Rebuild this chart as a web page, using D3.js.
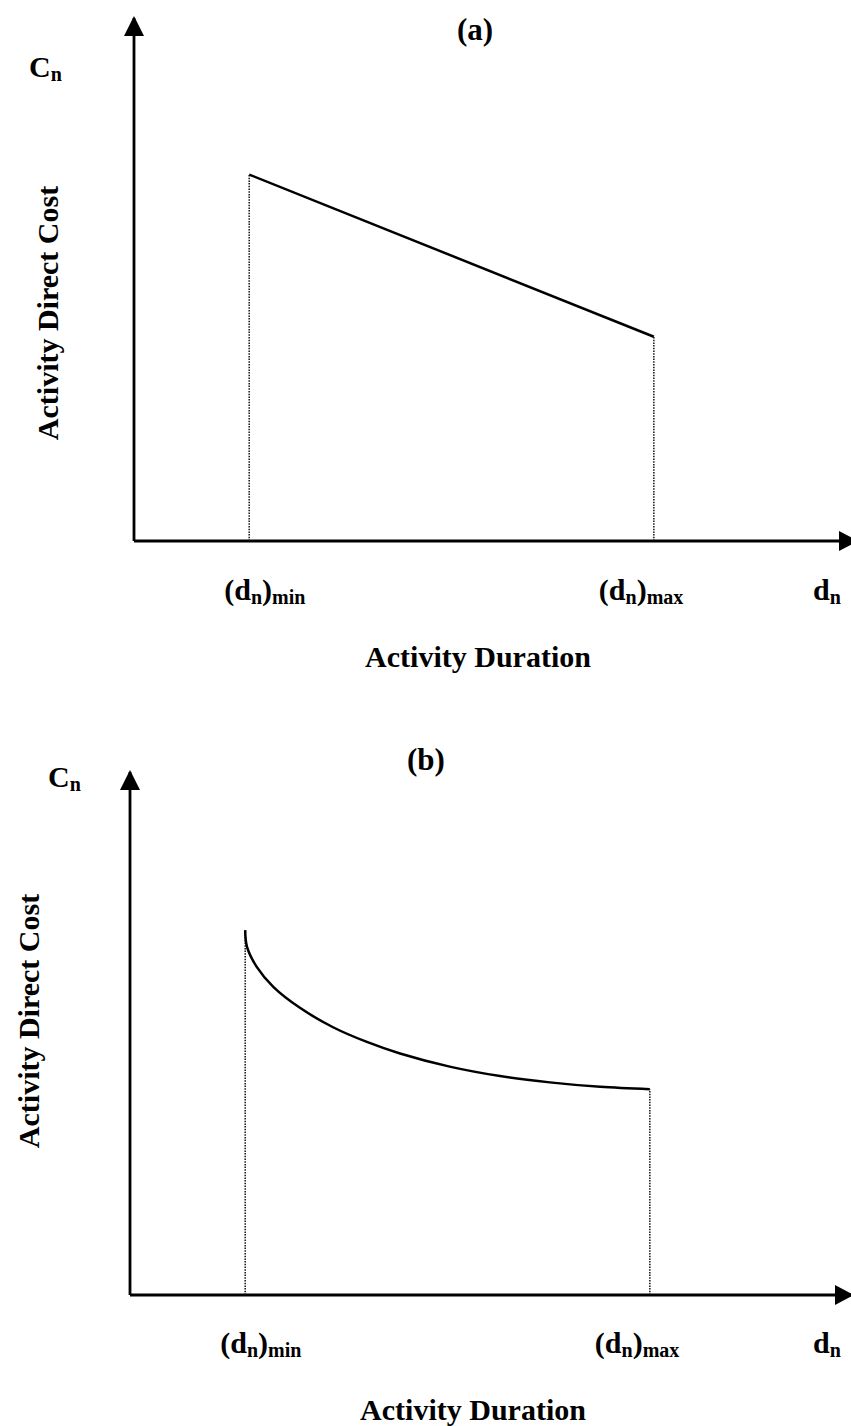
<!DOCTYPE html>
<html>
<head>
<meta charset="utf-8">
<script src="https://cdn.jsdelivr.net/npm/d3@7"></script>
<style>
  body { margin: 0; background: #fff; }
  text { font-family: "Liberation Serif", "Times New Roman", serif; font-weight: bold; fill: #000; }
</style>
</head>
<body>
<div id="canvas"></div>
<script>
// data (duration and cost in arbitrary units, axis runs 0..100)
var panelTitles = ["(a)", "(b)"];
var boundDurations = [16, 72.2];          // (d_n)min, (d_n)max
var boundNames = ["min", "max"];

// panel (a): linear cost-duration relation
var linearDuration = [16, 72.2];
var linearCost = [69.8, 38.9];

// panel (b): non-linear (convex) relation
var curveDuration = [16, 16.25, 17.6, 19.9, 23.6, 28.2, 32.9, 37.5, 44.4, 51.4, 58.3, 65.3, 72.2];
var curveCost = [69.5, 66.3, 62.5, 58.7, 54.7, 51.0, 48.2, 46.0, 43.5, 41.7, 40.5, 39.65, 39.2];

var svgWidth = 851;
var svgHeight = 1426;

// where each panel sits on the page
var layout = [
  { ox: 134, oy: 541, title: [475, 40], cn: [29, 77], ylab: [58, 313], tickY: 600, xlab: [478, 667] },
  { ox: 130, oy: 1295, title: [426, 770], cn: [48, 787], ylab: [39, 1021], tickY: 1353, xlab: [473, 1420] }
];

var x = d3.scaleLinear().domain([0, 100]).range([0, 720]);
var y = d3.scaleLinear().domain([0, 100]).range([0, -525]);

function createSvg(parent, height, width){
  return d3.select(parent).append('svg').attr('height', height).attr('width', width)
}

var svg = createSvg('#canvas', svgHeight, svgWidth);
svg.append('rect').attr('width', svgWidth).attr('height', svgHeight).attr('fill', '#fff');

// text with a subscript, e.g. C_n or (d_n)_min
function subText(g, px, py, parts) {
  var t = g.append('text').attr('x', px).attr('y', py).attr('font-size', 30);
  parts.forEach(function(p) {
    var s = t.append('tspan').text(p.t);
    if (p.sub) s.attr('font-size', 20).attr('dy', 4);
    else if (p.up) s.attr('dy', -4);
  });
  return t;
}

function drawPanel(i, series) {
  var L = layout[i];
  var g = svg.append('g').attr('transform', 'translate(' + L.ox + ',' + L.oy + ')');

  // axes: bare domain lines, no ticks
  var xAxis = g.append('g').call(d3.axisBottom(x).tickValues([]).tickSizeOuter(0));
  var yAxis = g.append('g').call(d3.axisLeft(y).tickValues([]).tickSizeOuter(0));
  xAxis.select('.domain').attr('stroke-width', 2.8).attr('d', 'M0,0H' + (x(100) + 4));
  yAxis.select('.domain').attr('stroke-width', 2.8).attr('d', 'M0,0V' + (y(100) + 2));

  // arrowheads
  var xt = x(100) + 4, yt = y(100);
  g.append('path').attr('d', 'M' + xt + ',0L' + (xt - 19) + ',-10L' + (xt - 19) + ',10Z').attr('fill', '#000');
  g.append('path').attr('d', 'M0,' + yt + 'L-10,' + (yt + 20) + 'L10,' + (yt + 20) + 'Z').attr('fill', '#000');

  // dotted drop lines at (d_n)min and (d_n)max
  var n = series.d.length;
  var ends = [series.c[0], series.c[n - 1]];
  g.selectAll('line.drop').data(boundDurations).enter().append('line')
    .attr('class', 'drop')
    .attr('x1', function(d) { return x(d); })
    .attr('x2', function(d) { return x(d); })
    .attr('y1', 0)
    .attr('y2', function(d, j) { return y(ends[j]); })
    .attr('stroke', '#111').attr('stroke-width', 1.5).attr('stroke-dasharray', '1.5,1.2');

  // cost curve
  var pts = series.d.map(function(d, j) { return [d, series.c[j]]; });
  var line = d3.line()
    .x(function(p) { return x(p[0]); })
    .y(function(p) { return y(p[1]); })
    .curve(series.curve);
  g.append('path').datum(pts).attr('d', line)
    .attr('fill', 'none').attr('stroke', '#000').attr('stroke-width', 2.5);

  // labels
  svg.append('text').attr('x', L.title[0]).attr('y', L.title[1])
    .attr('text-anchor', 'middle').attr('font-size', 31).text(panelTitles[i]);
  subText(svg, L.cn[0], L.cn[1], [{t: 'C'}, {t: 'n', sub: true}]);
  svg.append('text').attr('transform', 'translate(' + L.ylab[0] + ',' + L.ylab[1] + ') rotate(-90)')
    .attr('text-anchor', 'middle').attr('font-size', 30).text('Activity Direct Cost');

  var offs = [-25, -55];
  boundDurations.forEach(function(d, j) {
    subText(svg, L.ox + x(d) + offs[j], L.tickY,
      [{t: '(d'}, {t: 'n', sub: true}, {t: ')', up: true}, {t: boundNames[j], sub: true}]);
  });
  subText(svg, 813, L.tickY, [{t: 'd'}, {t: 'n', sub: true}]);
  svg.append('text').attr('x', L.xlab[0]).attr('y', L.xlab[1])
    .attr('text-anchor', 'middle').attr('font-size', 30).text('Activity Duration');
}

drawPanel(0, { d: linearDuration, c: linearCost, curve: d3.curveLinear });
drawPanel(1, { d: curveDuration, c: curveCost, curve: d3.curveCatmullRom.alpha(0.5) });
</script>
</body>
</html>
